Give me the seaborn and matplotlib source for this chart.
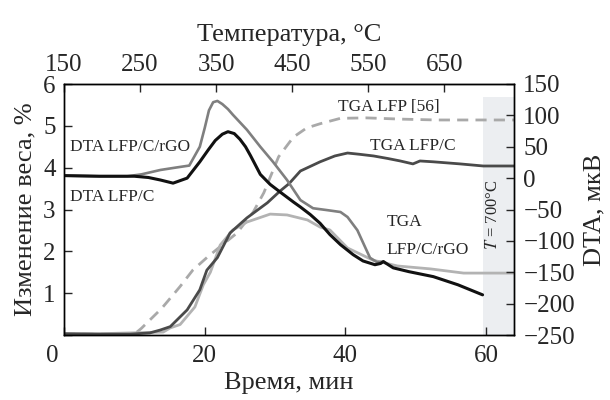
import numpy as np
import pandas as pd
import matplotlib
matplotlib.use("Agg")
import matplotlib.pyplot as plt
import matplotlib.transforms as mtransforms
import seaborn as sns

# --- data ---
# TGA curves, left axis (weight change, %)
t_tga_c = [0, 5, 9.4, 12.2, 13.7, 15.1, 17.5, 19.3, 20.3, 21.8, 23.6, 26, 28.9,
           30.7, 32, 33.6, 36.4, 38.5, 40.3, 42, 44, 46, 47.8, 49.6, 50.6, 52.5,
           56.3, 59.6, 64]
w_tga_c = [0.03, 0.02, 0.02, 0.05, 0.12, 0.2, 0.6, 1.08, 1.55, 1.85, 2.44, 2.8,
           3.16, 3.44, 3.62, 3.92, 4.14, 4.28, 4.35, 4.32, 4.28, 4.22, 4.16, 4.09,
           4.16, 4.14, 4.09, 4.04, 4.04]

t_tga_rgo = [0, 5, 9.4, 14.1, 15.1, 16.5, 18.6, 19.8, 20.8, 22.2, 24, 26, 29.3,
             31.7, 34.6, 36.4, 37.8, 40.3, 43.9, 47.4, 52.1, 56.8, 59.2, 64]
w_tga_rgo = [0.03, 0.03, 0.05, 0.07, 0.17, 0.25, 0.67, 1.2, 1.5, 2.15, 2.51, 2.7,
             2.89, 2.87, 2.75, 2.58, 2.51, 2.08, 1.79, 1.65, 1.58, 1.48, 1.48, 1.48]

t_tga_lfp = [0, 10, 11, 13.9, 16.5, 18.3, 20.5, 24.6, 26.9, 28.4, 30.5, 32.6,
             34.5, 36.4, 39.3, 43, 48, 53, 58, 64]
w_tga_lfp = [0.02, 0.02, 0.16, 0.64, 1.16, 1.55, 1.88, 2.44, 2.94, 3.4, 4.26, 4.73,
             4.95, 5.05, 5.18, 5.19, 5.16, 5.14, 5.14, 5.14]

# DTA curves, right axis (мкВ)
t_dta_c = [0, 5, 10, 12, 13.7, 15.5, 17.5, 19.3, 20.5, 21.5, 22.5, 23.3, 24.2, 25,
           25.8, 26.5, 27.9, 29.3, 30.7, 32.6, 33.6, 35, 36.4, 37.8, 39.3, 41.1,
           42.5, 44.2, 45, 45.4, 46.8, 49, 52.5, 56, 59.5]
d_dta_c = [4, 3, 3, 1, -3, -8, 0, 26, 45, 60, 70, 74, 71, 62, 50, 36, 6, -10,
           -22, -38, -46, -58, -72, -90, -106, -122, -132, -138, -136, -133, -143,
           -149, -157, -170, -186]

t_dta_rgo = [0, 5, 9, 11, 13.7, 16, 17.8, 19.3, 20, 20.6, 21.2, 21.8, 22.5, 23.3,
             24, 26, 27.9, 29.7, 31.7, 33.6, 35.4, 37.4, 39.3, 40.3, 41.7, 42.8,
             43.5, 44.5, 45.4]
d_dta_rgo = [4, 3, 3, 6, 13, 17, 20, 50, 80, 108, 121, 123, 118, 110, 101, 77,
             50, 26, -3, -35, -48, -51, -54, -62, -83, -110, -127, -134, -133]

# temperature scale on top axis: T = T0 + rate * t
T0, rate = 150, 9.25
temp_ticks = [150, 250, 350, 450, 550, 650]

sns.set_style("ticks")
plt.rcParams['font.family'] = ['Liberation Serif', 'DejaVu Serif']
plt.rcParams['mathtext.fontset'] = 'stix'

fig, ax = plt.subplots(figsize=(6.1, 4.0), dpi=100)
fig.subplots_adjust(left=0.105, right=0.843, bottom=0.1625, top=0.79)
ax2 = ax.twinx()

ax.axvspan(59.6, 64, ymin=0, ymax=0.948, color='#eceef1', zorder=0, lw=0)

sns.lineplot(x=t_tga_lfp, y=w_tga_lfp, ax=ax, color='#a9a9a9', lw=2.0,
             linestyle=(0, (4, 2.6)))
sns.lineplot(x=t_tga_rgo, y=w_tga_rgo, ax=ax, color='#b3b3b3', lw=2.0)
sns.lineplot(x=t_tga_c, y=w_tga_c, ax=ax, color='#4a4a4a', lw=2.0)

sns.lineplot(x=t_dta_rgo, y=d_dta_rgo, ax=ax2, color='#7f7f7f', lw=1.9)
sns.lineplot(x=t_dta_c, y=d_dta_c, ax=ax2, color='#111111', lw=2.2)

ax.set_xlim(0, 64)
ax.set_ylim(0, 6)
ax2.set_ylim(-250, 150)
ax.set_xticks([0, 20, 40, 60])
ax.set_yticks([0, 1, 2, 3, 4, 5, 6])
ax.set_yticklabels(['', '1', '2', '3', '4', '5', '6'])
ax2.set_yticks(np.arange(-250, 151, 50))
ax2.set_yticklabels([f"{v}".replace('-', '\u2212') for v in range(-250, 151, 50)])

fs_tick, fs_lab, fs_txt = 18, 19, 12.5
ax.tick_params(axis='x', direction='in', length=6, width=1, labelsize=fs_tick, pad=7)
ax.tick_params(axis='y', direction='in', length=6, width=1, labelsize=fs_tick, pad=6)
ax2.tick_params(direction='in', length=6, width=1, labelsize=fs_tick, pad=6.5)

# the "0" of the time axis sits a little to the left in the original
lbl0 = ax.get_xticklabels()[0]
lbl0.set_transform(lbl0.get_transform() +
                   mtransforms.ScaledTranslation(-0.12, 0, fig.dpi_scale_trans))

secax = ax.secondary_xaxis('top', functions=(lambda t: T0 + rate * t,
                                             lambda T: (T - T0) / rate))
secax.set_xticks(temp_ticks)
secax.tick_params(direction='in', length=6, width=1, labelsize=fs_tick, pad=6)
secax.set_xlabel("Температура, °C", fontsize=fs_lab, labelpad=9)

ax.set_xlabel("Время, мин", fontsize=fs_lab, labelpad=4)
ax.set_ylabel("Изменение веса, %", fontsize=fs_lab)
ax.yaxis.set_label_coords(-0.062, 0.5)
ax2.set_ylabel("DTA, мкВ", fontsize=fs_lab)
ax2.yaxis.set_label_coords(1.153, 0.5)

for a in (ax, ax2):
    for s in a.spines.values():
        s.set_linewidth(1.0)
        s.set_color('black')

ax.text(0.85, 4.49, "DTA LFP/C/rGO", fontsize=fs_txt, va='center', ha='left')
ax.text(0.85, 3.30, "DTA LFP/C", fontsize=fs_txt, va='center', ha='left')
ax.text(39.0, 5.45, "TGA LFP [56]", fontsize=fs_txt, va='center', ha='left')
ax.text(43.5, 4.52, "TGA LFP/C", fontsize=fs_txt, va='center', ha='left')
ax.text(45.8, 2.70, "TGA", fontsize=fs_txt, va='center', ha='left')
ax.text(45.8, 2.03, "LFP/C/rGO", fontsize=fs_txt, va='center', ha='left')
ax.text(61.0, 2.87, "$T$ = 700°C", fontsize=fs_txt - 0.5, va='center',
        ha='center', rotation=90)

fig.savefig("out.png", dpi=100)
